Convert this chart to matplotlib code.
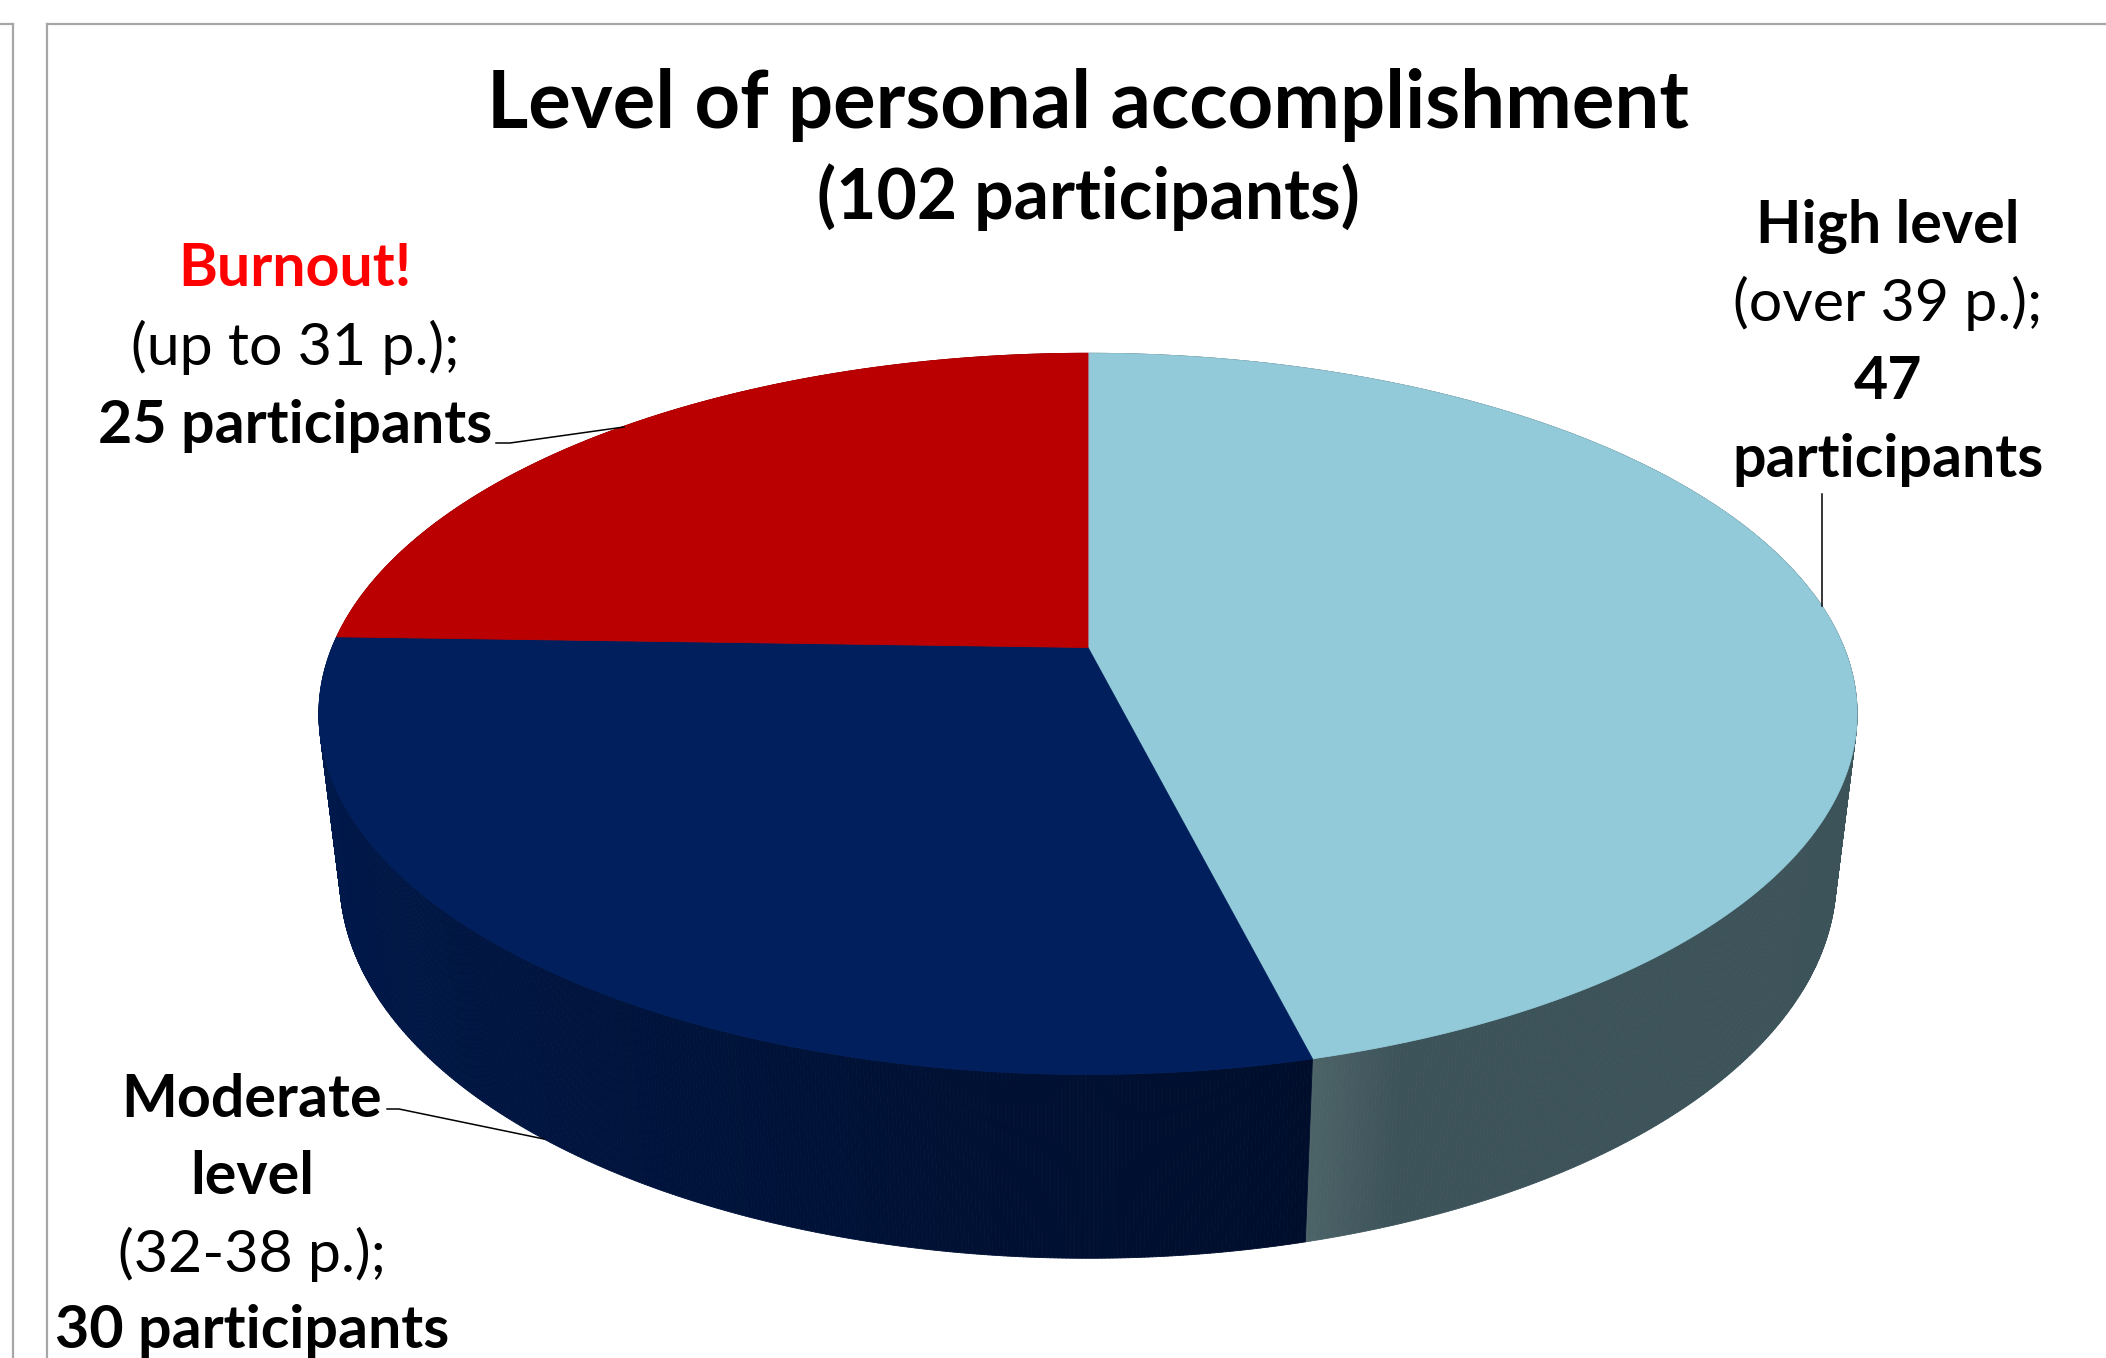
import numpy as np
import matplotlib
matplotlib.use("Agg")
import matplotlib.pyplot as plt
from matplotlib.collections import PolyCollection
from matplotlib.colors import to_rgb

# ---------------- data ----------------
categories = ["High level", "Moderate level", "Burnout!"]
ranges = ["(over 39 p.);", "(32-38 p.);", "(up to 31 p.);"]
counts = [47, 30, 25]
title_main = "Level of personal accomplishment"

# ---------------- style ----------------
top_colors = ["#92CAD9", "#001F5C", "#BA0000"]
side_dark = ["#3D535A", "#000E2C", "#7A0000"]
side_light = ["#4C6368", "#001B52", "#8A0000"]

W, H = 2106, 1358
fig = plt.figure(figsize=(W / 100, H / 100), dpi=100)
ax = fig.add_axes([0, 0, 1, 1])
ax.set_xlim(0, W)
ax.set_ylim(H, 0)
ax.axis("off")

# perspective camera for the 3D pie (pixel space)
x0, y0 = 1088.0, 647.5
A, B, C = 756.0, 348.4, 166.5
k, m = 0.184, 0.027


def proj(theta_deg, z, r=1.0):
    t = np.radians(theta_deg)
    u = r * np.sin(t)
    v = -r * np.cos(t)
    w = 1 - k * v + m * z
    return x0 + A * u / w, y0 + (B * v + C * z) / w


total = sum(counts)
fracs = np.array(counts) / total
bounds = np.concatenate([[0], np.cumsum(fracs) * 360])

# side walls
polys, cols, keys = [], [], []
step = 0.25
for i in range(len(counts)):
    a0, a1 = bounds[i], bounds[i + 1]
    ths = np.arange(a0, a1 + 1e-9, step)
    if ths[-1] < a1:
        ths = np.append(ths, a1)
    dk = np.array(to_rgb(side_dark[i]))
    lt = np.array(to_rgb(side_light[i]))
    for j in range(len(ths) - 1):
        ta, tb = ths[j], ths[j + 1]
        p1 = proj(ta, 0); p2 = proj(tb, 0)
        p3 = proj(tb, 1); p4 = proj(ta, 1)
        tm = 0.5 * (ta + tb)
        if i == 0:
            # lighter band near the boundary with Moderate slice
            f = np.clip((tm - (a1 - 6)) / 6, 0, 1)
            c = dk * (1 - f) + lt * f
        elif i == 1:
            f = np.clip((tm - a0) / (a1 - a0), 0, 1)
            c = dk * (1 - f) + lt * f
        else:
            c = dk
        polys.append([p1, p2, p3, p4])
        cols.append(tuple(c))
        keys.append(-np.cos(np.radians(tm)))
order = np.argsort(keys)
pc = PolyCollection([polys[o] for o in order], facecolors=[cols[o] for o in order],
                    edgecolors=[cols[o] for o in order], linewidths=0.6, zorder=2)
ax.add_collection(pc)

# top faces
for i in range(len(counts)):
    a0, a1 = bounds[i], bounds[i + 1]
    ths = np.linspace(a0, a1, 400)
    xs, ys = proj(ths, 0)
    pts = [proj(0, 0, 0.0)] + list(zip(xs, ys))
    ax.add_patch(plt.Polygon(pts, closed=True, facecolor=top_colors[i],
                             edgecolor=top_colors[i], linewidth=0.6, zorder=3))

# frame lines
gray = "#A6A6A6"
ax.plot([47, 47], [24, H], color=gray, lw=1.6, zorder=1)
ax.plot([47, W], [24, 24], color=gray, lw=1.6, zorder=1)
ax.plot([13, 13], [24, H], color=gray, lw=1.6, zorder=1)
ax.plot([0, 13], [24, 24], color=gray, lw=1.6, zorder=1)

renderer = fig.canvas.get_renderer()
FONT = "Lato"


def size_for(s, width, weight):
    t = ax.text(0, 0, s, fontsize=40, fontweight=weight, family=FONT)
    bb = t.get_window_extent(renderer)
    t.remove()
    return 40 * width / bb.width


def put(x, y, s, size, weight="bold", color="black"):
    ax.text(x, y, s, fontsize=size, fontweight=weight, family=FONT, color=color,
            ha="center", va="baseline", zorder=5)


# title
ts1 = size_for(title_main, 1201, "bold")
put(1088, 128, title_main, ts1)
sub = f"({total} participants)"
ts2 = size_for(sub, 542, "bold")
put(1088, 219, sub, ts2)

# label size fitted on one line
ls = size_for(f"{counts[2]} participants", 394, "bold")

# Burnout label
put(295, 286, categories[2], ls, color="#FF0000")
put(295, 365, ranges[2], ls, weight="normal")
put(295, 443, f"{counts[2]} participants", ls)

# High level label
put(1888, 243, categories[0], ls)
put(1888, 321, ranges[0], ls, weight="normal")
put(1888, 399, f"{counts[0]}", ls)
put(1888, 477, "participants", ls)

# Moderate label
mod_words = categories[1].split(" ")
put(252, 1117, mod_words[0], ls)
put(252, 1194, mod_words[1], ls)
put(252, 1272, ranges[1], ls, weight="normal")
put(252, 1348, f"{counts[1]} participants", ls)

# leader lines
ax.plot([496, 510, 624], [443, 443, 427], color="black", lw=1.1, zorder=4)
ax.plot([1822, 1822], [494, 606], color="black", lw=1.1, zorder=4)
ax.plot([387, 399, 544], [1109, 1109, 1139], color="black", lw=1.1, zorder=4)

fig.savefig("out.png", dpi=100)
